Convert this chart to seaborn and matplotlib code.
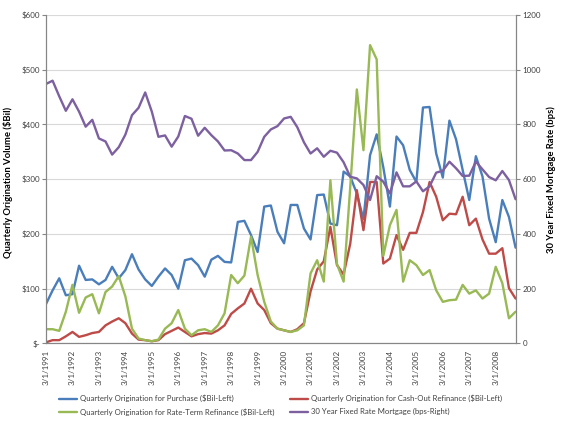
import matplotlib
matplotlib.use("Agg")
import matplotlib.pyplot as plt
from matplotlib.lines import Line2D
import numpy as np
import pandas as pd
import seaborn as sns

# ---------------- data ----------------
years = [1991, 1992, 1993, 1994, 1995, 1996, 1997, 1998, 1999,
         2000, 2001, 2002, 2003, 2004, 2005, 2006, 2007, 2008]
quarter_months = [3, 6, 9, 12]
quarters = [f"{m}/1/{y}" for y in years for m in quarter_months]
x_tick_labels = [f"3/1/{y}" for y in years]

purchase = [72, 97, 119, 88, 90, 142, 116, 117, 108, 116, 140, 119, 134, 163, 135, 117,
            105, 122, 137, 125, 100, 152, 155, 143, 122, 153, 160, 149, 148, 222, 224, 198,
            167, 250, 252, 204, 183, 253, 253, 210, 190, 271, 272, 219, 216, 314, 305, 274,
            227, 344, 382, 322, 250, 378, 362, 317, 295, 431, 432, 347, 303, 407, 373, 317,
            262, 342, 305, 228, 185, 262, 231, 175]
cash_out = [2, 6, 6, 13, 21, 12, 15, 19, 21, 33, 40, 46, 37, 18, 7, 6,
            4, 6, 17, 23, 29, 21, 13, 17, 19, 18, 24, 33, 54, 64, 73, 100,
            73, 61, 37, 27, 24, 21, 26, 37, 95, 135, 150, 213, 143, 126, 182, 280,
            207, 295, 295, 146, 155, 198, 171, 202, 202, 240, 295, 268, 225, 237, 236, 268,
            216, 228, 190, 164, 164, 174, 101, 82]
rate_term = [26, 26, 23, 58, 107, 56, 84, 90, 55, 94, 104, 123, 86, 27, 9, 6,
             4, 7, 27, 37, 61, 27, 15, 24, 26, 21, 33, 55, 125, 110, 124, 195,
             125, 76, 40, 27, 24, 21, 24, 33, 128, 152, 113, 298, 145, 113, 285, 464,
             353, 545, 519, 160, 216, 244, 113, 152, 143, 125, 134, 97, 76, 79, 80, 107,
             91, 97, 82, 91, 140, 110, 46, 58]
mortgage_rate = [948, 960, 903, 850, 892, 847, 792, 817, 749, 738, 690, 717, 763, 834, 861, 917,
                 847, 755, 760, 719, 756, 831, 821, 759, 788, 761, 738, 705, 706, 694, 670, 670,
                 700, 755, 782, 794, 822, 828, 790, 735, 694, 713, 682, 704, 697, 662, 609, 603,
                 579, 524, 611, 591, 548, 625, 574, 574, 592, 556, 574, 624, 631, 664, 640, 612,
                 613, 664, 636, 608, 596, 630, 597, 527]

left_ticks = [0, 100, 200, 300, 400, 500, 600]
left_tick_labels = ["$-", "$100", "$200", "$300", "$400", "$500", "$600"]
right_ticks = [0, 200, 400, 600, 800, 1000, 1200]

series_names = [
    "Quarterly Origination for Purchase ($Bil-Left)",
    "Quarterly Origination for Cash-Out Refinance ($Bil-Left)",
    "Quarterly Origination for Rate-Term Refinance ($Bil-Left)",
    "30 Year Fixed Rate Mortgage (bps-Right)",
]
colors = ["#4A7EBB", "#BE4B48", "#98B954", "#7D60A0"]

# ---------------- style ----------------
sns.set_theme(style="white")
plt.rcParams["font.family"] = ["Lato", "DejaVu Sans"]
text_gray = "#404040"
axis_gray = "#868686"

fig = plt.figure(figsize=(5.61, 4.24), dpi=100)
ax = fig.add_axes([0.082, 0.19, 0.837, 0.7746])

idx = np.arange(len(quarters))
df = pd.DataFrame({
    "idx": idx,
    "quarter": quarters,
    series_names[0]: purchase,
    series_names[1]: cash_out,
    series_names[2]: rate_term,
    series_names[3]: mortgage_rate,
})
left_long = df.melt(id_vars=["idx", "quarter"], value_vars=series_names[:3],
                    var_name="series", value_name="value")

lw = 1.7
sns.lineplot(data=left_long, x="idx", y="value", hue="series",
             hue_order=series_names[:3], palette=colors[:3],
             linewidth=lw, legend=False, ax=ax)
ax2 = ax.twinx()
sns.lineplot(data=df, x="idx", y=series_names[3], color=colors[3],
             linewidth=lw, legend=False, ax=ax2)
for a in (ax, ax2):
    for ln in a.get_lines():
        ln.set_solid_joinstyle("round")
        ln.set_solid_capstyle("round")

ax.set_xlim(0, len(quarters) - 1)
ax.set_ylim(0, 600)
ax2.set_ylim(0, 1200)

ax.set_xticks(idx[::4])
ax.set_xticklabels(x_tick_labels, rotation=90, fontsize=5.8, color=text_gray)
ax.set_yticks(left_ticks)
ax.set_yticklabels(left_tick_labels, fontsize=5.8, color=text_gray)
ax2.set_yticks(right_ticks)
ax2.set_yticklabels([str(t) for t in right_ticks], fontsize=5.8, color=text_gray)

ax.set_xlabel("")
ax.yaxis.grid(True, color="#D9D9D9", linewidth=0.8)
ax.set_axisbelow(True)

ax.tick_params(axis="x", direction="out", length=3, width=0.8, color=axis_gray, pad=1.5)
ax.tick_params(axis="y", direction="out", length=3, width=0.8, color=axis_gray, pad=1.5)
ax2.tick_params(axis="y", direction="out", length=3, width=0.8, color=axis_gray, pad=2)

for a in (ax, ax2):
    a.spines["top"].set_visible(False)
    for s in ("left", "right", "bottom"):
        a.spines[s].set_color(axis_gray)
        a.spines[s].set_linewidth(0.8)

ax.set_ylabel("Quarterly Origination Volume ($Bil)", fontsize=6.8,
              fontweight="bold", color="black")
ax.yaxis.set_label_coords(-0.07, 0.49)
ax2.set_ylabel("30 Year Fixed Mortgage Rate (bps)", fontsize=6.8,
               fontweight="bold", color="black", rotation=90)
ax2.yaxis.set_label_coords(1.066, 0.5)

handles = [Line2D([0], [0], color=c, linewidth=lw) for c in colors]
order = [0, 2, 1, 3]
fig.legend([handles[i] for i in order], [series_names[i] for i in order],
           ncol=2, loc="center", bbox_to_anchor=(0.5, 0.044), frameon=False,
           fontsize=5.6, handlelength=2.3, handletextpad=0.35,
           columnspacing=2.0, labelspacing=0.75, labelcolor=text_gray)

fig.savefig("out.png", dpi=100)
